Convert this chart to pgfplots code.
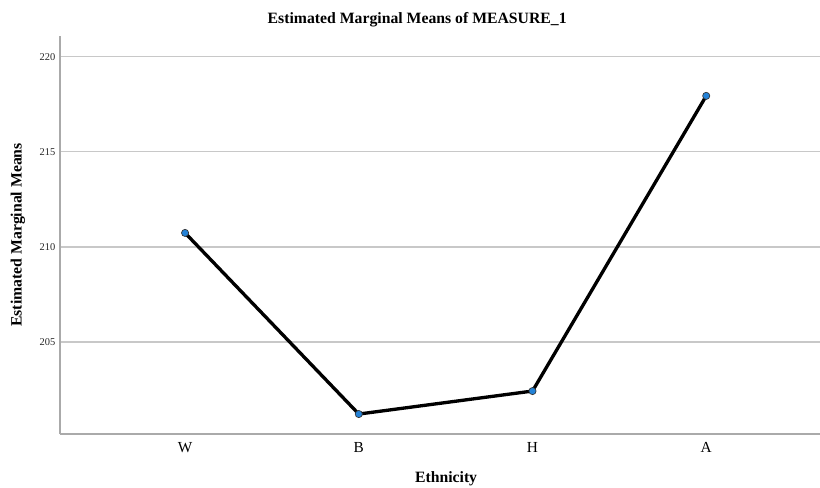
\documentclass[border=0pt]{standalone}
\usepackage{pgfplots}
\pgfplotsset{compat=1.18}
\usepackage{fontspec}
\setmainfont{Liberation Serif}
\definecolor{gridgray}{RGB}{200,200,200}
\definecolor{axisgray}{RGB}{170,170,170}
\definecolor{markblue}{RGB}{35,130,215}
\begin{document}
\begin{tikzpicture}
\begin{axis}[
  name=ax,
  scale only axis,
  width=570pt, height=298.5pt,
  xmin=-0.72, xmax=3.655,
  ymin=200.16, ymax=221.1,
  axis x line*=bottom, axis y line*=left,
  axis line style={axisgray, line width=0.9pt},
  xtick={0,1,2,3},
  xticklabels={W,B,H,A},
  ytick={205,210,215,220},
  major tick length=0pt,
  ymajorgrids,
  grid style={gridgray, line width=0.8pt},
  /pgf/number format/assume math mode=true,
  yticklabel style={font=\fontsize{7.8}{9}\selectfont, text=black!85},
  xticklabel style={font=\fontsize{11.5}{13}\selectfont, yshift=-3pt},
  xlabel={\textbf{Ethnicity}},
  xlabel style={at={(rel axis cs:0.508,-0.113)}, anchor=center, font=\fontsize{11.8}{13}\selectfont},
  ylabel={\textbf{Estimated Marginal Means}},
  ylabel style={at={(rel axis cs:-0.0553,0.5)}, anchor=center, font=\fontsize{11.8}{13}\selectfont},
  clip=false,
]
\addplot[black, line width=2.5pt, mark=*,
  mark options={fill=markblue, draw=black!80, line width=0.5pt, scale=1.35}]
  coordinates {(0,210.74) (1,201.21) (2,202.42) (3,217.95)};
\node[anchor=center, font=\fontsize{11.8}{13}\selectfont]
  at (rel axis cs:0.47,1.04) {\textbf{Estimated Marginal Means of MEASURE\_1}};
\end{axis}
\pgfresetboundingbox
\path[use as bounding box] ([xshift=-45pt,yshift=-39.75pt]ax.south west) rectangle ([yshift=27pt]ax.north east);
\end{tikzpicture}
\end{document}
